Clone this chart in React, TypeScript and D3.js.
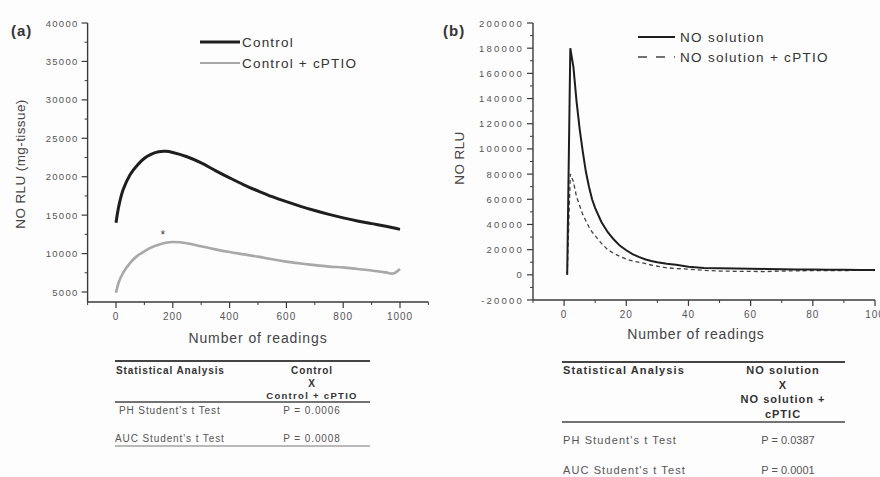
import React from "react";
import * as d3 from "d3";

// ---------- Panel (a) data ----------
const aReadingsControl = [0, 10, 25, 50, 75, 100, 125, 150, 175, 200, 250, 300, 350, 400, 450, 500, 550, 600, 650, 700, 750, 800, 850, 900, 950, 1000];
const aControl = [14000, 16200, 18300, 20300, 21500, 22400, 22950, 23250, 23300, 23150, 22600, 21800, 20800, 19850, 18950, 18150, 17400, 16750, 16150, 15600, 15100, 14650, 14250, 13900, 13550, 13150];
const aReadingsCptio = [0, 10, 25, 50, 75, 100, 125, 150, 175, 200, 250, 300, 350, 400, 450, 500, 550, 600, 650, 700, 750, 800, 850, 900, 950, 975, 1000];
const aCptio = [4900, 6300, 7500, 8800, 9700, 10300, 10800, 11150, 11400, 11500, 11350, 10950, 10550, 10200, 9900, 9600, 9250, 8950, 8700, 8500, 8300, 8200, 8000, 7800, 7550, 7400, 8000];
const aYTicks = [5000, 10000, 15000, 20000, 25000, 30000, 35000, 40000];
const aXTicks = [0, 200, 400, 600, 800, 1000];

// ---------- Panel (b) data ----------
const bReadings = [1, 2, 3, 4, 5, 6, 7, 8, 9, 10, 12, 14, 16, 18, 20, 22, 24, 26, 28, 30, 33, 36, 40, 45, 50, 55, 60, 65, 70, 75, 80, 85, 90, 95, 100];
const bSolution = [0, 180000, 165000, 138000, 116000, 98000, 82000, 70000, 60000, 53000, 42000, 34000, 28000, 23000, 19500, 16500, 14200, 12400, 11000, 10000, 8800, 8000, 6500, 5500, 5200, 5000, 4800, 4700, 4500, 4300, 4200, 4100, 4000, 3900, 3800];
const bCptio = [0, 80000, 74000, 62000, 55000, 48000, 43000, 38000, 34000, 31000, 25000, 20000, 17000, 14500, 12500, 11000, 10000, 9000, 7800, 6800, 5600, 5000, 4500, 3500, 3000, 2800, 2700, 2600, 3000, 3200, 3300, 3400, 3400, 3500, 3500];
const bYTicks = [-20000, 0, 20000, 40000, 60000, 80000, 100000, 120000, 140000, 160000, 180000, 200000];
const bXTicks = [0, 20, 40, 60, 80, 100];

// ---------- Tables ----------
const tableAHeaderLeft = "Statistical Analysis";
const tableAHeaderRight = ["Control", "X", "Control + cPTIO"];
const tableARows = [["PH Student's t Test", "P = 0.0006"], ["AUC Student's t Test", "P = 0.0008"]];
const tableBHeaderLeft = "Statistical Analysis";
const tableBHeaderRight = ["NO solution", "X", "NO solution +", "cPTIC"];
const tableBRows = [["PH Student's t Test", "P = 0.0387"], ["AUC Student's t Test", "P = 0.0001"]];

const FONT = "'Liberation Sans', Arial, sans-serif";
const AX = "#3a3a3a";
const TXT = "#444";

function YAxis({ scale, x, ticks, minor, ls }: any) {
  const [d0, d1] = scale.domain();
  return (
    <g>
      <line x1={x} x2={x} y1={scale(d0)} y2={scale(d1)} stroke={AX} strokeWidth={1.4} />
      {minor.map((t: number) => (
        <line key={"m" + t} x1={x - 3} x2={x} y1={scale(t)} y2={scale(t)} stroke={AX} strokeWidth={1} />
      ))}
      {ticks.map((t: number) => (
        <g key={t}>
          <line x1={x - 6} x2={x} y1={scale(t)} y2={scale(t)} stroke={AX} strokeWidth={1.2} />
          <text x={x - 9} y={scale(t) + 3.5} textAnchor="end" fontSize={9.5} letterSpacing={ls} fill="#555" fontFamily={FONT}>
            {t}
          </text>
        </g>
      ))}
    </g>
  );
}

function XAxis({ scale, y, ticks, minor }: any) {
  const [d0, d1] = scale.domain();
  return (
    <g>
      <line x1={scale(d0)} x2={scale(d1)} y1={y} y2={y} stroke={AX} strokeWidth={1.4} />
      {minor.map((t: number) => (
        <line key={"m" + t} x1={scale(t)} x2={scale(t)} y1={y} y2={y + 3} stroke={AX} strokeWidth={1} />
      ))}
      {ticks.map((t: number) => (
        <g key={t}>
          <line x1={scale(t)} x2={scale(t)} y1={y} y2={y + 6} stroke={AX} strokeWidth={1.2} />
          <text x={scale(t)} y={y + 18} textAnchor="middle" fontSize={10} letterSpacing={1} fill="#555" fontFamily={FONT}>
            {t}
          </text>
        </g>
      ))}
    </g>
  );
}

export default function App() {
  // Panel (a) scales
  const ax = d3.scaleLinear().domain([-100, 1100]).range([87.6, 428.4]);
  const ay = d3.scaleLinear().domain([3700, 40000]).range([302, 23]);
  const aLine = d3
    .line<[number, number]>()
    .x((d) => ax(d[0]))
    .y((d) => ay(d[1]))
    .curve(d3.curveCatmullRom.alpha(0.5));
  const aCtrlPts: [number, number][] = aReadingsControl.map((r, i) => [r, aControl[i]]);
  const aCptPts: [number, number][] = aReadingsCptio.map((r, i) => [r, aCptio[i]]);
  const aMinorY = d3.range(7500, 40000, 5000);
  const aMinorX = d3.range(-100, 1101, 100).filter((v) => v % 200 !== 0);

  // Panel (b) scales
  const bx = d3.scaleLinear().domain([-10, 100]).range([533, 875]);
  const by = d3.scaleLinear().domain([-20000, 200000]).range([300, 23]);
  const bLine = d3
    .line<[number, number]>()
    .x((d) => bx(d[0]))
    .y((d) => by(d[1]))
    .curve(d3.curveLinear);
  const bSolPts: [number, number][] = bReadings.map((r, i) => [r, bSolution[i]]);
  const bCptPts: [number, number][] = bReadings.map((r, i) => [r, bCptio[i]]);
  const bMinorY = d3.range(-10000, 200000, 20000);
  const bMinorX = d3.range(-10, 101, 10).filter((v) => v % 20 !== 0);

  return (
    <svg
      width={880}
      height={477}
      style={{ position: "absolute", left: 0, top: 0, background: "#fff" }}
      fontFamily={FONT}
    >
      <rect x={0} y={0} width={880} height={477} fill="#fdfdfd" />
      {/* ---------- Panel (a) ---------- */}
      <text x={11} y={36} fontSize={15} fontWeight="bold" letterSpacing={1} fill="#333">(a)</text>
      <YAxis scale={ay} x={87.6} ticks={aYTicks} minor={aMinorY} ls={1.3} />
      <XAxis scale={ax} y={302} ticks={aXTicks} minor={aMinorX} />
      <text
        transform={`translate(25,${164}) rotate(-90)`}
        textAnchor="middle"
        fontSize={13.5}
        letterSpacing={0.4}
        fill={TXT}
      >
        NO RLU (mg-tissue)
      </text>
      <text x={ax(500)} y={343} textAnchor="middle" fontSize={14} letterSpacing={0.9} fill={TXT}>
        Number of readings
      </text>
      <path d={aLine(aCptPts) || ""} fill="none" stroke="#a8a8a8" strokeWidth={2.6} />
      <path d={aLine(aCtrlPts) || ""} fill="none" stroke="#1e1e1e" strokeWidth={3} />
      <text x={ax(165)} y={239} textAnchor="middle" fontSize={12} fill="#444">*</text>
      {/* legend a */}
      <line x1={200} x2={240} y1={42} y2={42} stroke="#1e1e1e" strokeWidth={3} />
      <text x={242} y={47} fontSize={13.5} letterSpacing={1.2} fill="#333">Control</text>
      <line x1={200} x2={240} y1={63} y2={63} stroke="#a8a8a8" strokeWidth={2} />
      <text x={242} y={68} fontSize={13.5} letterSpacing={1.2} fill="#333">Control + cPTIO</text>

      {/* table a */}
      <line x1={115} x2={370} y1={361} y2={361} stroke="#444" strokeWidth={2} />
      <text x={116} y={374} fontSize={10} letterSpacing={0.9} fontWeight="bold" fill="#333">{tableAHeaderLeft}</text>
      {tableAHeaderRight.map((s, i) => (
        <text
          key={i}
          x={312}
          y={374 + i * 12.5}
          textAnchor="middle"
          fontSize={i === 2 ? 9.5 : 10}
          letterSpacing={i === 2 ? 1.3 : 0.9}
          fontWeight="bold"
          fill="#333"
        >
          {s}
        </text>
      ))}
      <line x1={115} x2={370} y1={402} y2={402} stroke="#444" strokeWidth={1.5} />
      {tableARows.map((r, i) => (
        <g key={i}>
          <text x={i === 0 ? 119 : 115} y={414 + i * 28} fontSize={10} letterSpacing={0.9} fill="#555">{r[0]}</text>
          <text x={312} y={414 + i * 28} textAnchor="middle" fontSize={10} letterSpacing={0.9} fill="#555">{r[1]}</text>
        </g>
      ))}
      <line x1={115} x2={370} y1={446} y2={446} stroke="#777" strokeWidth={1} />

      {/* ---------- Panel (b) ---------- */}
      <text x={443} y={36} fontSize={15} fontWeight="bold" letterSpacing={1} fill="#333">(b)</text>
      <YAxis scale={by} x={533} ticks={bYTicks} minor={bMinorY} ls={2.2} />
      <XAxis scale={bx} y={300} ticks={bXTicks} minor={bMinorX} />
      <text
        transform={`translate(464,${158}) rotate(-90)`}
        textAnchor="middle"
        fontSize={13.5}
        letterSpacing={0.4}
        fill={TXT}
      >
        NO RLU
      </text>
      <text x={696} y={339} textAnchor="middle" fontSize={14} letterSpacing={0.8} fill={TXT}>
        Number of readings
      </text>
      <path d={bLine(bCptPts) || ""} fill="none" stroke="#444" strokeWidth={1.3} strokeDasharray="4,3" />
      <path d={bLine(bSolPts) || ""} fill="none" stroke="#1e1e1e" strokeWidth={2} />
      {/* legend b */}
      <line x1={638} x2={675} y1={37} y2={37} stroke="#1e1e1e" strokeWidth={2} />
      <text x={680} y={42} fontSize={13.5} letterSpacing={1.3} fill="#333">NO solution</text>
      <line x1={638} x2={675} y1={57} y2={57} stroke="#444" strokeWidth={1.3} strokeDasharray="9,9" />
      <text x={680} y={62} fontSize={13.5} letterSpacing={1.3} fill="#333">NO solution + cPTIO</text>

      {/* table b */}
      <line x1={562} x2={845} y1={362} y2={362} stroke="#444" strokeWidth={2} />
      <text x={563} y={374} fontSize={11} letterSpacing={1.1} fontWeight="bold" fill="#333">{tableBHeaderLeft}</text>
      {tableBHeaderRight.map((s, i) => (
        <text key={i} x={783} y={374 + i * 14.5} textAnchor="middle" fontSize={11} letterSpacing={1} fontWeight="bold" fill="#333">
          {s}
        </text>
      ))}
      <line x1={562} x2={845} y1={422} y2={422} stroke="#444" strokeWidth={1.5} />
      {tableBRows.map((r, i) => (
        <g key={i}>
          <text x={563} y={444 + i * 30} fontSize={11} letterSpacing={1.1} fill="#555">{r[0]}</text>
          <text x={788} y={444 + i * 30} textAnchor="middle" fontSize={11} fill="#555">{r[1]}</text>
        </g>
      ))}
    </svg>
  );
}
